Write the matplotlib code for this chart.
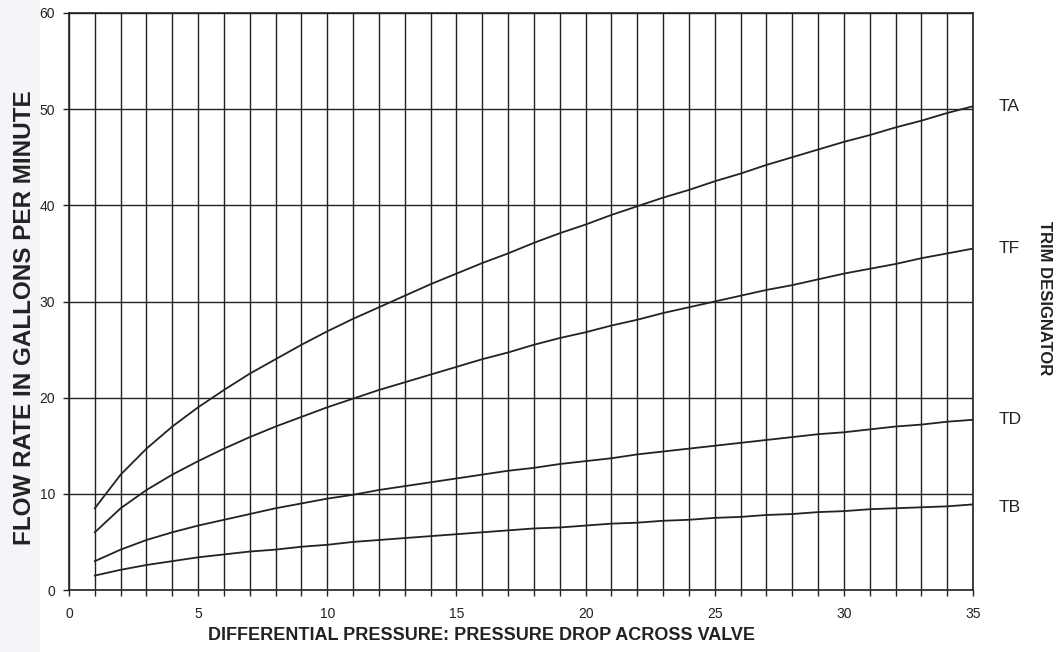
import matplotlib
matplotlib.use("Agg")
import matplotlib.pyplot as plt
from matplotlib.patches import Rectangle

plt.rcParams['font.family'] = ['Liberation Sans', 'DejaVu Sans']

# pressure drop points
dp = list(range(1, 36))

# flow rate (gpm) per trim
ta = [8.5, 12.0, 14.7, 17.0, 19.0, 20.8, 22.5, 24.0, 25.5, 26.9, 28.2, 29.4,
      30.6, 31.8, 32.9, 34.0, 35.0, 36.1, 37.1, 38.0, 39.0, 39.9, 40.8, 41.6,
      42.5, 43.3, 44.2, 45.0, 45.8, 46.6, 47.3, 48.1, 48.8, 49.6, 50.3]
tf = [6.0, 8.5, 10.4, 12.0, 13.4, 14.7, 15.9, 17.0, 18.0, 19.0, 19.9, 20.8,
      21.6, 22.4, 23.2, 24.0, 24.7, 25.5, 26.2, 26.8, 27.5, 28.1, 28.8, 29.4,
      30.0, 30.6, 31.2, 31.7, 32.3, 32.9, 33.4, 33.9, 34.5, 35.0, 35.5]
td = [3.0, 4.2, 5.2, 6.0, 6.7, 7.3, 7.9, 8.5, 9.0, 9.5, 9.9, 10.4,
      10.8, 11.2, 11.6, 12.0, 12.4, 12.7, 13.1, 13.4, 13.7, 14.1, 14.4, 14.7,
      15.0, 15.3, 15.6, 15.9, 16.2, 16.4, 16.7, 17.0, 17.2, 17.5, 17.7]
tb = [1.5, 2.1, 2.6, 3.0, 3.4, 3.7, 4.0, 4.2, 4.5, 4.7, 5.0, 5.2,
      5.4, 5.6, 5.8, 6.0, 6.2, 6.4, 6.5, 6.7, 6.9, 7.0, 7.2, 7.3,
      7.5, 7.6, 7.8, 7.9, 8.1, 8.2, 8.4, 8.5, 8.6, 8.7, 8.9]

trims = ['TA', 'TF', 'TD', 'TB']
series = [ta, tf, td, tb]
label_y = [50.3, 35.5, 17.7, 8.6]

x_ticks = [0, 5, 10, 15, 20, 25, 30, 35]
y_ticks = [0, 10, 20, 30, 40, 50, 60]

fig = plt.figure(figsize=(10.6, 6.52), dpi=100)
# faint strip on the left edge
fig.patches.append(Rectangle((0, 0), 0.037, 1, transform=fig.transFigure,
                             color='#f3f5f9', zorder=-5))
ax = fig.add_axes([69 / 1060, 62 / 652, 904 / 1060, 577 / 652])
ax.set_zorder(1)
ax.patch.set_alpha(0)

# grid
for i in range(0, 36):
    ax.axvline(i, color='#222222', lw=1.0, zorder=1)
for v in y_ticks:
    ax.axhline(v, color='#222222', lw=1.0, zorder=1)

for s in series:
    ax.plot(dp, s, color='#222222', lw=1.3, zorder=2)

for name, y in zip(trims, label_y):
    ax.text(36.0, y, name, fontsize=12.5, color='#222222', va='center', ha='left')

ax.set_xlim(0, 35)
ax.set_ylim(0, 60)
ax.set_xticks(range(0, 36), minor=True)
ax.set_xticks(x_ticks)
ax.set_yticks(y_ticks)
ax.tick_params(axis='both', which='both', direction='out', length=4,
               width=1, color='#222222', labelsize=10, labelcolor='#222222')
ax.tick_params(axis='x', pad=8)
ax.tick_params(axis='y', pad=6)
for sp in ax.spines.values():
    sp.set_color('#222222')
    sp.set_linewidth(1.2)

fig.text(481 / 1060, 1 - 636 / 652,
         'DIFFERENTIAL PRESSURE: PRESSURE DROP ACROSS VALVE',
         fontsize=13, fontweight='bold', color='#222222',
         ha='center', va='center')
fig.text(25 / 1060, 1 - 318 / 652, 'FLOW RATE IN GALLONS PER MINUTE',
         rotation=90, fontsize=17.5, fontweight='bold', color='#222222',
         ha='center', va='center')
fig.text(1045 / 1060, 1 - 298 / 652, 'TRIM DESIGNATOR', rotation=-90,
         fontsize=12, fontweight='bold', color='#222222',
         ha='center', va='center')

fig.savefig('out.png', dpi=100)
